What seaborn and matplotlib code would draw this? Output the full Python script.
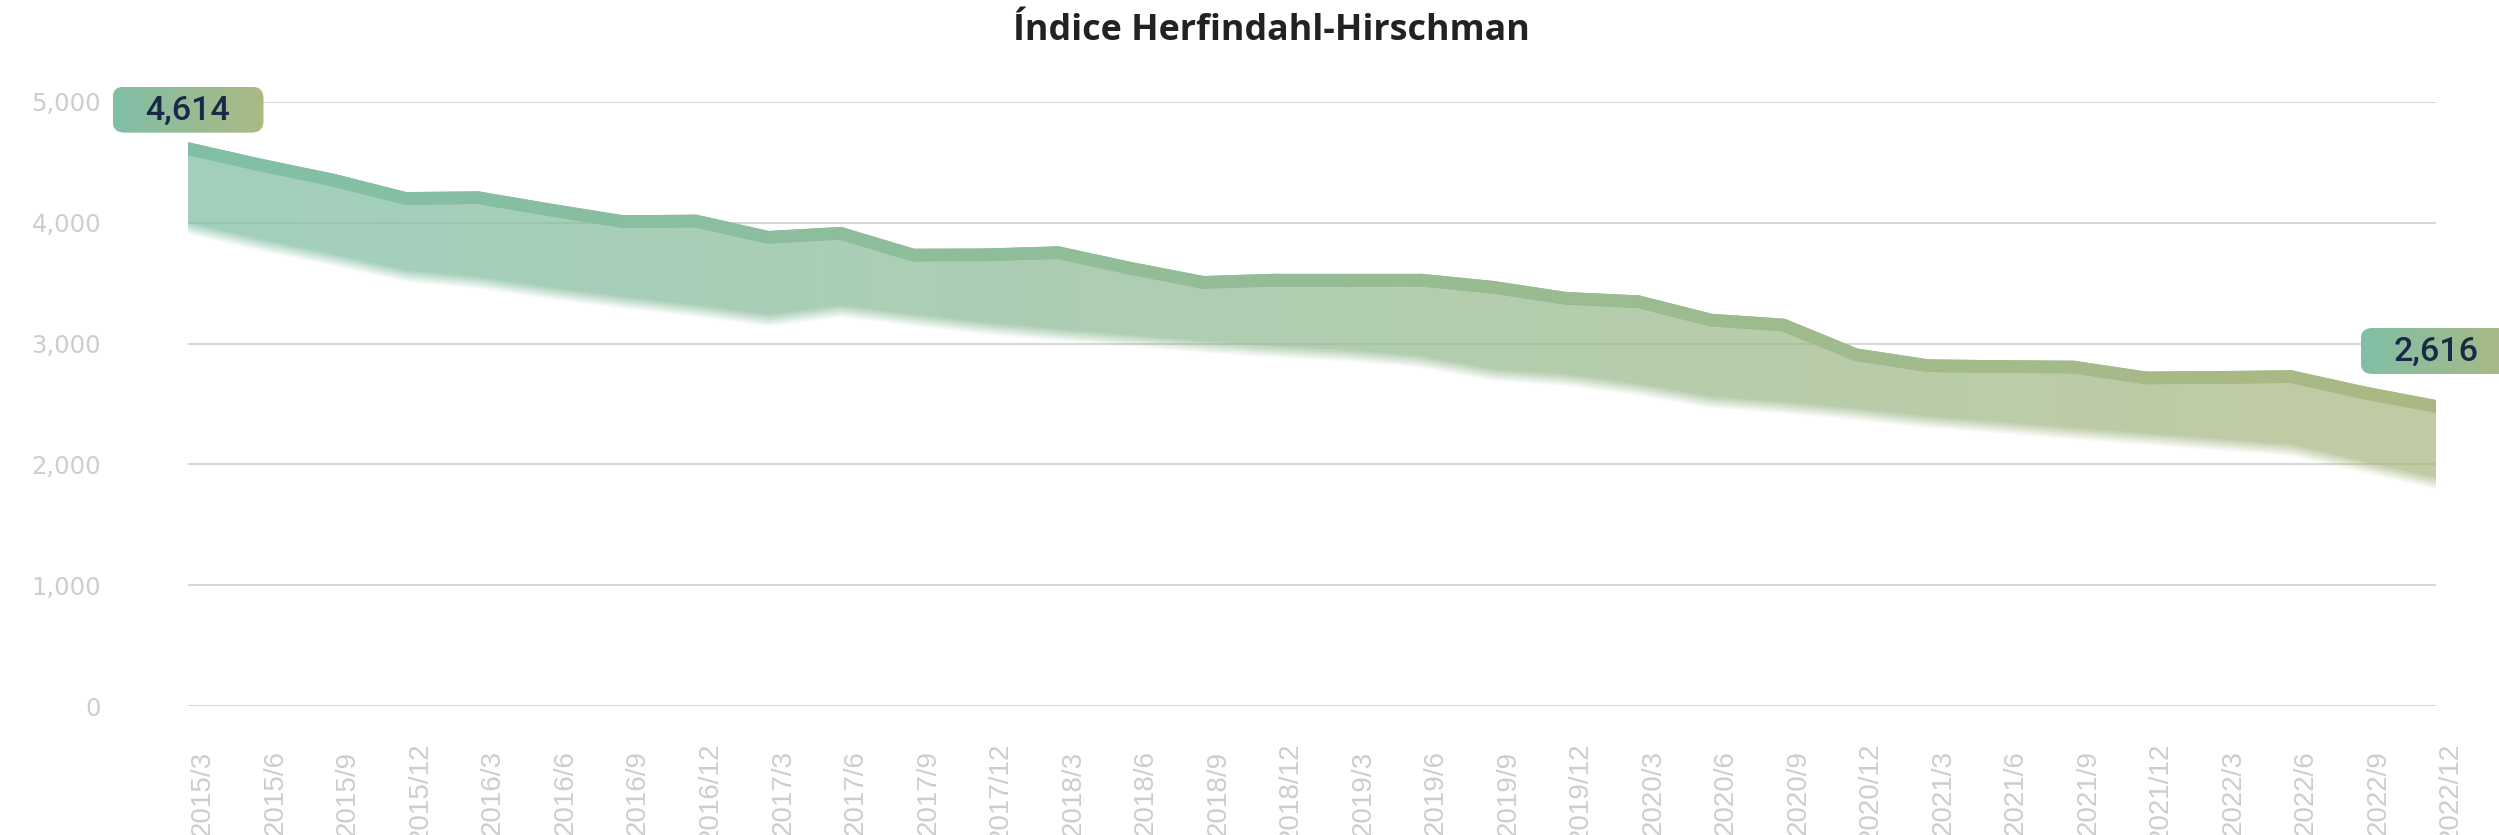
import numpy as np
import matplotlib
matplotlib.use("Agg")
import matplotlib.pyplot as plt
import matplotlib.transforms as mtransforms
from matplotlib.collections import LineCollection
from matplotlib.patches import FancyBboxPatch
import seaborn as sns

# ---------------- data ----------------
periods = ["2015/3", "2015/6", "2015/9", "2015/12",
           "2016/3", "2016/6", "2016/9", "2016/12",
           "2017/3", "2017/6", "2017/9", "2017/12",
           "2018/3", "2018/6", "2018/9", "2018/12",
           "2019/3", "2019/6", "2019/9", "2019/12",
           "2020/3", "2020/6", "2020/9", "2020/12",
           "2021/3", "2021/6", "2021/9", "2021/12",
           "2022/3", "2022/6", "2022/9", "2022/12"]
hhi = [4614, 4478, 4354, 4202, 4208, 4106, 4010, 4015,
       3880, 3913, 3733, 3735, 3753, 3623, 3507, 3526,
       3526, 3526, 3466, 3375, 3347, 3195, 3154, 2908,
       2817, 2810, 2806, 2716, 2720, 2727, 2594, 2480]
band_low = [3954, 3816, 3692, 3560, 3504, 3416, 3339, 3272,
            3190, 3268, 3195, 3126, 3071, 3024, 2974, 2933,
            2900, 2850, 2740, 2699, 2620, 2515, 2470, 2415,
            2350, 2305, 2255, 2210, 2165, 2119, 1981, 1844]
callout_idx = [0, 31]
callout_values = [4614, 2616]
y_ticks = [0, 1000, 2000, 3000, 4000, 5000]
title = "Índice Herfindahl-Hirschman"

# ---------------- style ----------------
W, H = 2499, 835
sns.set_theme(style="white")
plt.rcParams["font.family"] = ["DejaVu Sans"]

c_start = np.array([128, 191, 166]) / 255.0
c_end = np.array([171, 185, 131]) / 255.0
tick_col = "#CDCDCD"
grid_col = "#D3D3D3"

fig = plt.figure(figsize=(W / 100, H / 100), dpi=100)
fig.patch.set_facecolor("white")
ax = fig.add_axes([188 / W, 1 - 706 / H, (2436 - 188) / W, (706 - 102) / H])

n = len(hhi)
idx = np.arange(n)

# base line via seaborn
mid = (c_start + c_end) / 2
sns.lineplot(x=idx, y=hhi, ax=ax, color=mid, linewidth=9.1, zorder=3)

ax.set_xlim(0, n - 1)
ax.set_ylim(0, 5000)

# gradient band fill (horizontal colour gradient, soft lower edge)
ny, nx = 1000, 2400
ylo, yhi = 1400, 4800
xs = np.linspace(0, n - 1, nx)
ys = np.linspace(ylo, yhi, ny)
up = np.interp(xs, idx, hhi)[None, :]
lo = np.interp(xs, idx, band_low)[None, :]
Y = ys[:, None]
fade = 110.0
a = np.clip((Y - lo + fade / 2) / fade, 0, 1) * (Y <= up)
t = xs / (n - 1)
rgb = c_start[None, :] + t[:, None] * (c_end - c_start)[None, :]
img = np.zeros((ny, nx, 4), dtype=np.float32)
img[..., :3] = rgb[None, :, :]
img[..., 3] = 0.74 * a
ax.imshow(img, extent=(0, n - 1, ylo, yhi), origin="lower", aspect="auto",
          interpolation="bilinear", zorder=2)

# gradient line
pts = np.column_stack([idx, hhi]).astype(float)
segs = np.stack([pts[:-1], pts[1:]], axis=1)
tm = (idx[:-1] + 0.5) / (n - 1)
cols = [tuple(c_start + ti * (c_end - c_start)) for ti in tm]
lc = LineCollection(segs, colors=cols, linewidths=9.1, capstyle="round",
                    joinstyle="round", zorder=4)
ax.add_collection(lc)

ax.set_xlim(0, n - 1)
ax.set_ylim(0, 5000)

# axes styling
for s in ax.spines.values():
    s.set_visible(False)
ax.set_yticks(y_ticks)
ax.set_yticklabels([f"{v:,}" for v in y_ticks])
ax.set_xticks(idx)
ax.set_xticklabels(periods, rotation=90, va="center", ha="center",
                   family=["Liberation Sans", "DejaVu Sans"])
ax.tick_params(axis="y", length=0, pad=62.6, labelsize=17.5, labelcolor=tick_col)
ax.tick_params(axis="x", length=0, pad=62.6, labelsize=20, labelcolor=tick_col)
shift = mtransforms.ScaledTranslation(0.15, 0, fig.dpi_scale_trans)
for lab in ax.get_xticklabels():
    lab.set_transform(lab.get_transform() + shift)
ax.yaxis.grid(True, color=grid_col, linewidth=1.3, zorder=1)
ax.xaxis.grid(False)
ax.set_axisbelow(True)
ax.set_xlabel("")
ax.set_ylabel("")

# title
fig.text(1271 / W, 1 - 31 / H, title, ha="center", va="center",
         fontsize=25.8, fontweight="bold", color="#222222",
         family=["Open Sans", "DejaVu Sans"])

# callout boxes (overlay in pixel coordinates)
ov = fig.add_axes([0, 0, 1, 1], zorder=10)
ov.patch.set_alpha(0)
ov.axis("off")
bw, bh = 151, 46
grad = np.linspace(0, 1, 256)
grad_img = (c_start[None, :] + grad[:, None] * (c_end - c_start)[None, :])[None, :, :]
for xi, val in zip(callout_idx, callout_values):
    px, pyd = ax.transData.transform((xi, val))
    py = H - pyd
    cy = py - 39
    x0, y0 = px - bw / 2, cy - bh / 2
    patch = FancyBboxPatch((x0, y0), bw, bh,
                           boxstyle="round,pad=0,rounding_size=12",
                           fc="none", ec="none")
    ov.add_patch(patch)
    im = ov.imshow(grad_img, extent=(x0, x0 + bw, y0 + bh, y0), aspect="auto",
                   interpolation="bilinear", zorder=1)
    im.set_clip_path(patch)
    ov.text(px, cy + 1, f"{val:,}", ha="center", va="center", fontsize=24.5,
            color="#1A2947", fontweight="medium", family=["Roboto", "DejaVu Sans"],
            zorder=2)
ov.set_xlim(0, W)
ov.set_ylim(H, 0)

fig.savefig("out.png", dpi=100, facecolor="white")
